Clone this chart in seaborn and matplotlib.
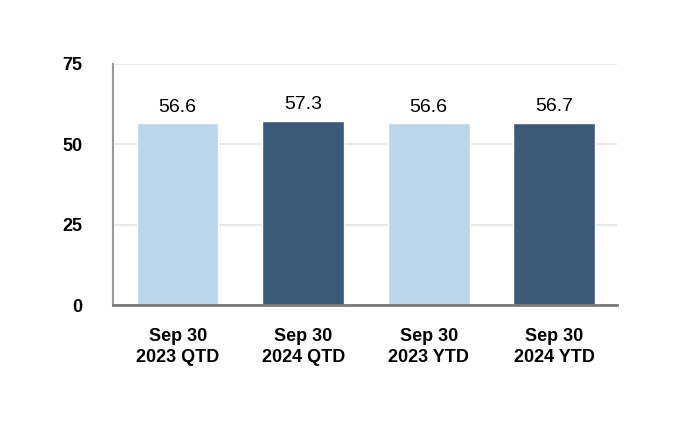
import matplotlib
matplotlib.use("Agg")
import matplotlib.pyplot as plt
import seaborn as sns
import pandas as pd

categories = ["Sep 30\n2023 QTD", "Sep 30\n2024 QTD", "Sep 30\n2023 YTD", "Sep 30\n2024 YTD"]
values = [56.6, 57.3, 56.6, 56.7]
bar_colors = ["#BBD6EA", "#3B5A78", "#BBD6EA", "#3B5A78"]
yticks = [0, 25, 50, 75]

sns.set_theme(style="white")
plt.rcParams["font.family"] = ["Liberation Sans", "DejaVu Sans"]

df = pd.DataFrame({"cat": categories, "val": values})

fig = plt.figure(figsize=(6.8, 4.28), dpi=100)
ax = fig.add_axes([113/680, 1-305/428, (617-113)/680, (305-64)/428])

sns.barplot(data=df, x="cat", y="val", hue="cat", palette=bar_colors,
            width=0.65, legend=False, ax=ax, saturation=1)

ax.set_xlim(-0.515, 3.5)
ax.set_ylim(0, 75)
ax.set_yticks(yticks)
ax.set_yticklabels([str(t) for t in yticks], fontsize=13, fontweight="bold", color="black")
ax.tick_params(axis="y", length=0, pad=22)
ax.tick_params(axis="x", length=0, pad=16.5)
for lbl in ax.get_xticklabels():
    lbl.set_fontsize(13)
    lbl.set_fontweight("bold")
    lbl.set_color("black")
    lbl.set_linespacing(1.3)
ax.set_xlabel("")
ax.set_ylabel("")

ax.yaxis.grid(True, color="#E4E4E4", linewidth=1.2)
ax.set_axisbelow(True)
for s in ["top", "right"]:
    ax.spines[s].set_visible(False)
ax.spines["left"].set_color("#9A9A9A")
ax.spines["left"].set_linewidth(1.5)
ax.spines["bottom"].set_color("#7A7A7A")
ax.spines["bottom"].set_linewidth(2)

for i, v in enumerate(values):
    ax.annotate(f"{v:.1f}", xy=(i, v), xytext=(0, 11.5), textcoords="offset points",
                ha="center", va="center", fontsize=14, color="black")

fig.savefig("out.png", dpi=100)
